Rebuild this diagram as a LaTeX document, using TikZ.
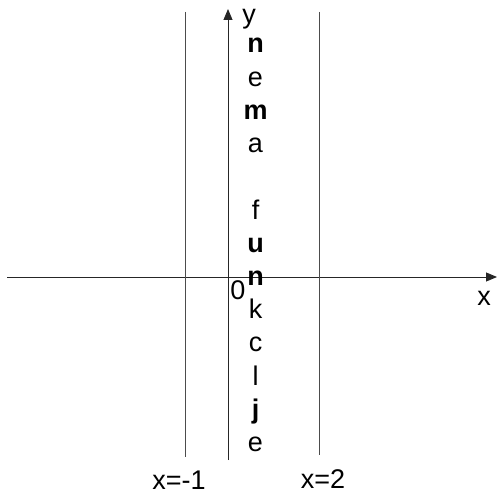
\documentclass[tikz,border=0pt]{standalone}
\usepackage{fontspec}
\setmainfont{Liberation Sans}
\usetikzlibrary{arrows.meta}
\begin{document}
\begin{tikzpicture}[x=1pt,y=-1pt,
  axisline/.style={line width=0.9pt, draw=black!85, -{Triangle[length=11pt,width=9pt]}},
  vline/.style={line width=0.9pt, draw=black!70},
  lbl/.style={inner sep=0pt, font=\fontsize{27}{27}\selectfont},
  ltr/.style={inner sep=0pt, anchor=base, font=\fontsize{27}{27}\selectfont}]
\useasboundingbox (0,0) rectangle (497,497);
% axes
\coordinate (xs) at (7,277);
\coordinate (xe) at (497,277);
\coordinate (ys) at (228,460);
\coordinate (ye) at (228,9);
\draw[axisline] (xs) -- (xe);
\draw[axisline] (ys) -- (ye);
% vertical lines
\coordinate (a1) at (185,12);
\coordinate (a2) at (185,457);
\coordinate (b1) at (319,12);
\coordinate (b2) at (319,455);
\draw[vline] (a1) -- (a2);
\draw[vline] (b1) -- (b2);
% labels
\node[lbl] (ylab) at (249,19) {y};
\node[lbl] (xlab) at (484,298) {x};
\node[lbl] (orig) at (238,290) {0};
\node[lbl] (lm1) at (179,480) {x=-1};
\node[lbl] (l2) at (323,479) {x=2};
% vertical text
\foreach \ch/\k/\nm in {{\bfseries n}/0/t0, e/1/t1, {\bfseries m}/2/t2, a/3/t3,
  f/5/t5, {\bfseries u}/6/t6, {\bfseries n}/7/t7, k/8/t8, c/9/t9, l/10/t10,
  {\bfseries j}/11/t11, e/12/t12}
  \node[ltr] (\nm) at (255.5,{53+\k*33.2}) {\ch};
\end{tikzpicture}
\end{document}
